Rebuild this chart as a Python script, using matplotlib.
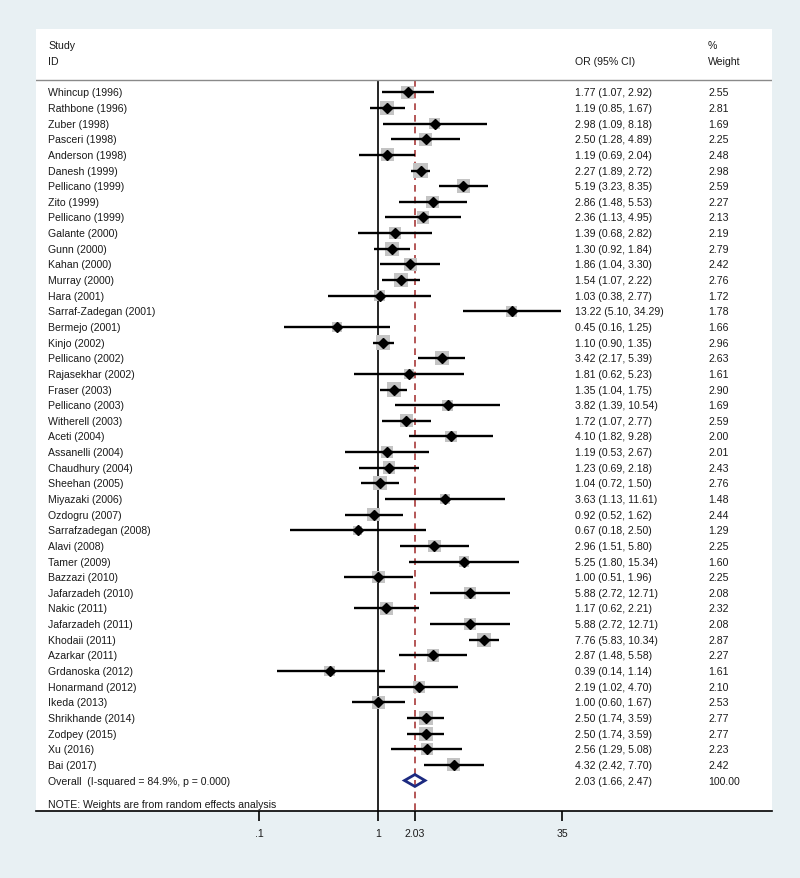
#!/usr/bin/env python3

import matplotlib
matplotlib.use('Agg')
import matplotlib.pyplot as plt
import numpy as np
from matplotlib.patches import Polygon
from matplotlib.transforms import blended_transform_factory

studies = [
    'Whincup (1996)', 'Rathbone (1996)', 'Zuber (1998)', 'Pasceri (1998)',
    'Anderson (1998)', 'Danesh (1999)', 'Pellicano (1999)', 'Zito (1999)',
    'Pellicano (1999)', 'Galante (2000)', 'Gunn (2000)', 'Kahan (2000)',
    'Murray (2000)', 'Hara (2001)', 'Sarraf-Zadegan (2001)', 'Bermejo (2001)',
    'Kinjo (2002)', 'Pellicano (2002)', 'Rajasekhar (2002)', 'Fraser (2003)',
    'Pellicano (2003)', 'Witherell (2003)', 'Aceti (2004)', 'Assanelli (2004)',
    'Chaudhury (2004)', 'Sheehan (2005)', 'Miyazaki (2006)', 'Ozdogru (2007)',
    'Sarrafzadegan (2008)', 'Alavi (2008)', 'Tamer (2009)', 'Bazzazi (2010)',
    'Jafarzadeh (2010)', 'Nakic (2011)', 'Jafarzadeh (2011)', 'Khodaii (2011)',
    'Azarkar (2011)', 'Grdanoska (2012)', 'Honarmand (2012)', 'Ikeda (2013)',
    'Shrikhande (2014)', 'Zodpey (2015)', 'Xu (2016)', 'Bai (2017)',
]
odds = [1.77, 1.19, 2.98, 2.50, 1.19, 2.27, 5.19, 2.86, 2.36, 1.39, 1.30,
        1.86, 1.54, 1.03, 13.22, 0.45, 1.10, 3.42, 1.81, 1.35, 3.82, 1.72,
        4.10, 1.19, 1.23, 1.04, 3.63, 0.92, 0.67, 2.96, 5.25, 1.00, 5.88,
        1.17, 5.88, 7.76, 2.87, 0.39, 2.19, 1.00, 2.50, 2.50, 2.56, 4.32]
lower = [1.07, 0.85, 1.09, 1.28, 0.69, 1.89, 3.23, 1.48, 1.13, 0.68, 0.92,
         1.04, 1.07, 0.38, 5.10, 0.16, 0.90, 2.17, 0.62, 1.04, 1.39, 1.07,
         1.82, 0.53, 0.69, 0.72, 1.13, 0.52, 0.18, 1.51, 1.80, 0.51, 2.72,
         0.62, 2.72, 5.83, 1.48, 0.14, 1.02, 0.60, 1.74, 1.74, 1.29, 2.42]
upper = [2.92, 1.67, 8.18, 4.89, 2.04, 2.72, 8.35, 5.53, 4.95, 2.82, 1.84,
         3.30, 2.22, 2.77, 34.29, 1.25, 1.35, 5.39, 5.23, 1.75, 10.54, 2.77,
         9.28, 2.67, 2.18, 1.50, 11.61, 1.62, 2.50, 5.80, 15.34, 1.96, 12.71,
         2.21, 12.71, 10.34, 5.58, 1.14, 4.70, 1.67, 3.59, 3.59, 5.08, 7.70]
weights = [2.55, 2.81, 1.69, 2.25, 2.48, 2.98, 2.59, 2.27, 2.13, 2.19, 2.79,
           2.42, 2.76, 1.72, 1.78, 1.66, 2.96, 2.63, 1.61, 2.90, 1.69, 2.59,
           2.00, 2.01, 2.43, 2.76, 1.48, 2.44, 1.29, 2.25, 1.60, 2.25, 2.08,
           2.32, 2.08, 2.87, 2.27, 1.61, 2.10, 2.53, 2.77, 2.77, 2.23, 2.42]
overall = (2.03, 1.66, 2.47)
overall_label = 'Overall  (I-squared = 84.9%, p = 0.000)'
note = 'NOTE: Weights are from random effects analysis'
ticks = [0.1, 1, 2.03, 35]
tick_labels = ['.1', '1', '2.03', '35']

FONT = 'Liberation Sans'
FS = 7.6
TXT = '#1a1a1a'


def main():
    fig = plt.figure(figsize=(8.0, 8.79), dpi=100, facecolor='#e8f0f3')
    ax = fig.add_axes([36 / 800, 1 - 812 / 879, 736 / 800, 782 / 879])
    ax.set_facecolor('white')

    # log axis: 1 sits at px 378.3, 119 px per decade
    ax.set_xscale('log')
    ax.set_xlim(10 ** ((36 - 378.3) / 119), 10 ** ((772 - 378.3) / 119))
    ax.set_ylim(45.95, -4.05)

    n = len(studies)
    rows = np.arange(n)
    head_y = -0.79

    ax.axhline(head_y, color='#8a8a8a', lw=1.0)
    ax.vlines(1, head_y, 45.95, color='black', lw=1.2, zorder=1)
    ax.vlines(overall[0], head_y, 45.95, color='#a83a3a', lw=1.2,
              linestyles=(0, (4, 3)), zorder=1)

    ax.scatter(odds, rows, marker='s', s=np.array(weights) * 36,
               color='#c4c4c4', lw=0, zorder=2)
    ax.hlines(rows, lower, upper, color='black', lw=1.7, zorder=3)
    ax.plot(odds, rows, 'D', color='black', ms=5, zorder=4)

    est, lo, hi = overall
    diamond = Polygon([(lo, n), (est, n - 0.38), (hi, n), (est, n + 0.38)],
                      closed=True, fill=False, edgecolor='#1c2a80', lw=2.0,
                      zorder=4)
    ax.add_patch(diamond)

    tr = blended_transform_factory(ax.transAxes, ax.transData)
    kw = dict(transform=tr, fontsize=FS, family=FONT, color=TXT, va='center')
    x_id, x_or, x_w = (48.3 - 36) / 736, (575 - 36) / 736, (708 - 36) / 736

    ax.text(x_id, -3, 'Study', **kw)
    ax.text(x_id, -2, 'ID', **kw)
    ax.text(x_or, -2, 'OR (95% CI)', **kw)
    ax.text(x_w, -3, '%', **kw)
    ax.text(x_w, -2, 'Weight', **kw)

    for i in range(n):
        ax.text(x_id, i, studies[i], **kw)
        ax.text(x_or, i, '%.2f (%.2f, %.2f)' % (odds[i], lower[i], upper[i]), **kw)
        ax.text(x_w, i, '%.2f' % weights[i], **kw)
    ax.text(x_id, n, overall_label, **kw)
    ax.text(x_or, n, '%.2f (%.2f, %.2f)' % overall, **kw)
    ax.text(x_w, n, '100.00', **kw)
    ax.text(x_id, n + 1.5, note, **kw)

    for side in ('left', 'right', 'top'):
        ax.spines[side].set_visible(False)
    ax.spines['bottom'].set_linewidth(1.2)
    ax.set_yticks([])
    ax.set_xticks(ticks)
    ax.set_xticklabels(tick_labels, family=FONT, fontsize=FS, color=TXT)
    ax.xaxis.set_minor_locator(matplotlib.ticker.NullLocator())
    ax.tick_params(axis='x', length=7, width=1.2, pad=5)

    fig.savefig('out.png', dpi=100, facecolor=fig.get_facecolor())


if __name__ == '__main__':
    main()
